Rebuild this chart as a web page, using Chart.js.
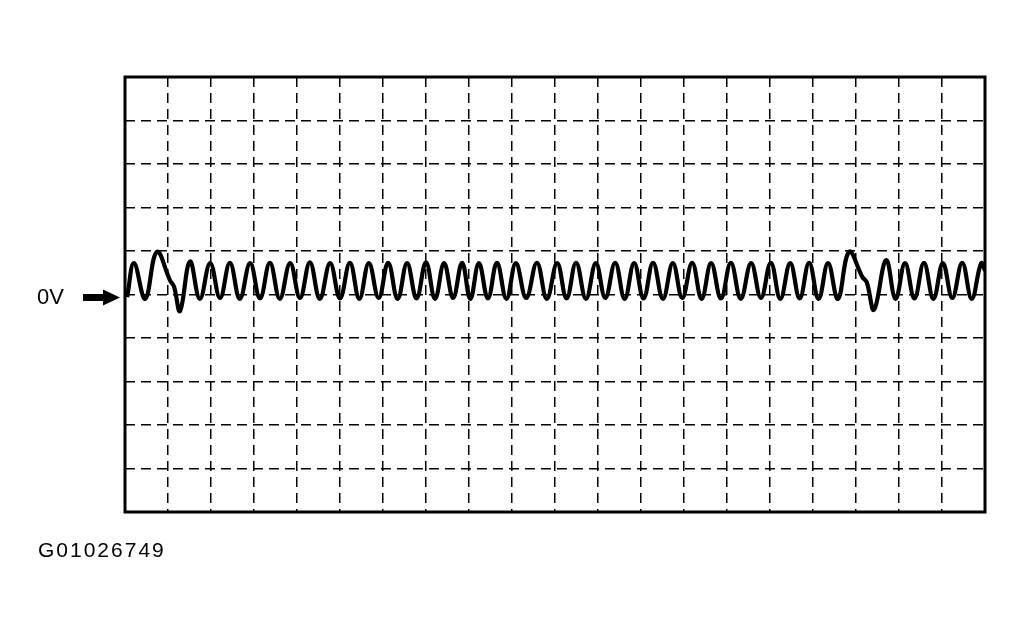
<!DOCTYPE html>
<html>
<head>
<meta charset="utf-8">
<title>G01026749</title>
<script src="https://cdn.jsdelivr.net/npm/chart.js@4.4.1/dist/chart.umd.min.js"></script>
<style>
  body { margin: 0; background: #fff; }
  #wrap { position: relative; width: 1025px; height: 634px; }
  #caption {
    position: absolute; left: 38px; top: 538px;
    font: 21px "Liberation Sans", Arial, sans-serif; letter-spacing: 2px; color: #000;
  }
</style>
</head>
<body>
<div id="wrap">
  <canvas id="scope" width="1025" height="634"></canvas>
  <div id="caption">G01026749</div>
</div>
<script>
// scope trace, x in grid divisions, y in divisions from 0V
var timeDiv = [
  0.05, 0.21, 0.47, 0.74, 1.05, 1.14, 1.28, 1.51, 1.74, 1.98, 2.21, 2.44, 2.67, 2.91, 3.14, 3.37,
  3.60, 3.84, 4.07, 4.30, 4.53, 4.77, 5.00, 5.23, 5.45, 5.67, 5.90, 6.12, 6.34, 6.56, 6.78, 7.00,
  7.21, 7.42, 7.63, 7.84, 8.03, 8.23, 8.44, 8.65, 8.87, 9.09, 9.33, 9.58, 9.81, 10.05, 10.27, 10.49,
  10.72, 10.95, 11.17, 11.40, 11.62, 11.84, 12.06, 12.28, 12.51, 12.74, 12.96, 13.19, 13.41, 13.63,
  13.86, 14.09, 14.32, 14.56, 14.79, 15.02, 15.24, 15.47, 15.69, 15.91, 16.13, 16.35, 16.58, 16.84,
  17.15, 17.25, 17.42, 17.70, 17.92, 18.14, 18.36, 18.58, 18.80, 19.02, 19.24, 19.47, 19.69, 19.91, 20.0
];
var volts = [
  -0.06, 0.72, -0.10, 0.98, 0.32, 0.18, -0.38, 0.76, -0.10, 0.72, -0.08, 0.73, -0.10, 0.72, -0.09, 0.73,
  -0.10, 0.72, -0.08, 0.74, -0.10, 0.72, -0.09, 0.73, -0.10, 0.72, -0.08, 0.73, -0.10, 0.72, -0.09, 0.74,
  -0.10, 0.72, -0.08, 0.73, -0.10, 0.72, -0.09, 0.73, -0.10, 0.72, -0.08, 0.73, -0.10, 0.72, -0.09, 0.73,
  -0.10, 0.72, -0.08, 0.73, -0.10, 0.72, -0.09, 0.73, -0.10, 0.72, -0.08, 0.73, -0.10, 0.72,
  -0.09, 0.73, -0.10, 0.72, -0.08, 0.73, -0.10, 0.72, -0.09, 0.73, -0.10, 0.72, -0.10, 0.98,
  0.40, 0.28, -0.35, 0.79, -0.10, 0.72, -0.09, 0.73, -0.10, 0.72, -0.08, 0.73, -0.10, 0.72, 0.55
];
var xMin = 0, xMax = 20;
var yMin = -5, yMax = 5;
var zeroLabel = '0V';

var trace = timeDiv.map(function(t, i) {
  return { x: t, y: volts[i] };
});

// frame round the plot + the 0V marker on the left
var scopeFrame = {
  id: 'scopeFrame',
  afterDraw: function(chart) {
    var ctx = chart.ctx;
    var a = chart.chartArea;
    ctx.save();
    ctx.strokeStyle = '#000';
    ctx.lineWidth = 3;
    ctx.strokeRect(a.left, a.top, a.right - a.left, a.bottom - a.top);

    var y0 = chart.scales.y.getPixelForValue(0) + 3;
    ctx.fillStyle = '#000';
    ctx.font = '22px "Liberation Sans", Arial, sans-serif';
    ctx.textBaseline = 'middle';
    ctx.fillText(zeroLabel, 37, y0);

    var tip = a.left - 5;
    ctx.fillRect(tip - 37, y0 - 3.5, 22, 7);
    ctx.beginPath();
    ctx.moveTo(tip - 17, y0 - 8);
    ctx.lineTo(tip, y0);
    ctx.lineTo(tip - 17, y0 + 8);
    ctx.closePath();
    ctx.fill();
    ctx.restore();
  }
};

var gridStyle = { color: '#000', lineWidth: 1.5, drawTicks: false };
var borderStyle = { display: false, dash: [10, 6] };

new Chart(document.getElementById('scope').getContext('2d'), {
  type: 'line',
  data: {
    datasets: [{
      data: trace,
      borderColor: '#000',
      borderWidth: 4.2,
      pointRadius: 0,
      tension: 0.4,
      fill: false
    }]
  },
  options: {
    responsive: false,
    animation: false,
    layout: { padding: { left: 125, top: 77, right: 40, bottom: 122 } },
    plugins: { legend: { display: false }, tooltip: { enabled: false } },
    scales: {
      x: {
        type: 'linear', min: xMin, max: xMax,
        ticks: { display: false, stepSize: 1 },
        grid: gridStyle, border: borderStyle
      },
      y: {
        type: 'linear', min: yMin, max: yMax,
        ticks: { display: false, stepSize: 1 },
        grid: gridStyle, border: borderStyle
      }
    }
  },
  plugins: [scopeFrame]
});
</script>
</body>
</html>
